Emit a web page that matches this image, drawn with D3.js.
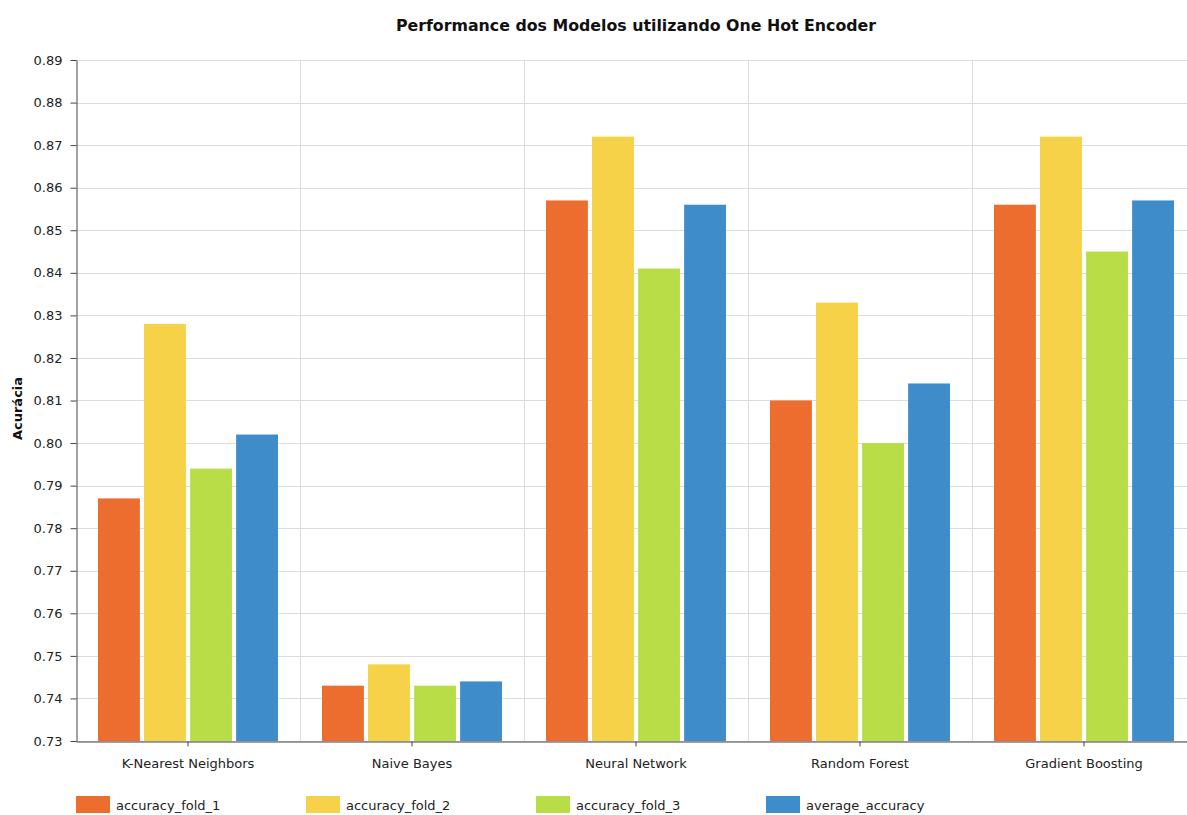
<!DOCTYPE html>
<html>
<head>
<meta charset="utf-8">
<script src="https://cdn.jsdelivr.net/npm/d3@7"></script>
<style>
  html, body { margin: 0; padding: 0; background: #fff; }
  svg { display: block; font-family: "DejaVu Sans", Verdana, sans-serif; }
</style>
</head>
<body>
<svg id="chart" width="1187" height="815"></svg>
<script>
// Models and per-fold accuracies
const models = ["K-Nearest Neighbors", "Naive Bayes", "Neural Network", "Random Forest", "Gradient Boosting"];
const seriesNames = ["accuracy_fold_1", "accuracy_fold_2", "accuracy_fold_3", "average_accuracy"];
const accuracyFold1 = [0.787, 0.743, 0.857, 0.810, 0.856];
const accuracyFold2 = [0.828, 0.748, 0.872, 0.833, 0.872];
const accuracyFold3 = [0.794, 0.743, 0.841, 0.800, 0.845];
const averageAccuracy = [0.802, 0.744, 0.856, 0.814, 0.857];
const yTicks = [0.73, 0.74, 0.75, 0.76, 0.77, 0.78, 0.79, 0.80, 0.81, 0.82, 0.83, 0.84, 0.85, 0.86, 0.87, 0.88, 0.89];
const colors = ["#EC6D2D", "#F5D247", "#B9DD46", "#3F8CCB"];

const seriesValues = [accuracyFold1, accuracyFold2, accuracyFold3, averageAccuracy];
const rows = models.map((m, i) => ({
  model: m,
  values: seriesNames.map((s, j) => ({ key: s, value: seriesValues[j][i] }))
}));

const svg = d3.select("#chart");
const margin = { top: 60, left: 76, right: 1196, bottom: 741 };

const x = d3.scaleBand().domain(models).range([margin.left, margin.right]).paddingInner(0).paddingOuter(0);
const xInner = d3.scaleBand().domain(seriesNames).range([22, x.bandwidth() - 22]).paddingInner(0.09);
const y = d3.scaleLinear().domain([0.73, 0.89]).range([margin.bottom, margin.top]);

// Horizontal gridlines
svg.append("g")
  .selectAll("line")
  .data(yTicks)
  .join("line")
  .attr("x1", margin.left).attr("x2", margin.right)
  .attr("y1", d => Math.round(y(d)) + 0.5).attr("y2", d => Math.round(y(d)) + 0.5)
  .attr("stroke", "#dcdcdc").attr("stroke-width", 1);

// Vertical separators between categories
svg.append("g")
  .selectAll("line")
  .data(models.slice(1))
  .join("line")
  .attr("x1", d => Math.round(x(d)) + 0.5).attr("x2", d => Math.round(x(d)) + 0.5)
  .attr("y1", margin.top).attr("y2", margin.bottom)
  .attr("stroke", "#dcdcdc").attr("stroke-width", 1);

// Bars
const groups = svg.append("g")
  .selectAll("g")
  .data(rows)
  .join("g")
  .attr("transform", d => `translate(${x(d.model)},0)`);

groups.selectAll("rect")
  .data(d => d.values)
  .join("rect")
  .attr("x", d => xInner(d.key))
  .attr("width", xInner.bandwidth())
  .attr("y", d => y(d.value))
  .attr("height", d => y(0.73) - y(d.value))
  .attr("fill", (d, i) => colors[i]);

// Y axis
const yAxis = svg.append("g")
  .attr("transform", `translate(${margin.left + 0.5},0)`)
  .call(d3.axisLeft(y).tickValues(yTicks).tickFormat(d3.format(".2f")).tickSize(6).tickSizeOuter(0));
yAxis.select(".domain").attr("stroke", "#444");
yAxis.selectAll(".tick line").attr("stroke", "#444");
yAxis.selectAll(".tick text").attr("font-size", 13).attr("fill", "#222").attr("x", -14)
  .attr("font-family", "DejaVu Sans, sans-serif");

// X axis
const xAxis = svg.append("g")
  .attr("transform", `translate(0,${margin.bottom + 0.5})`)
  .call(d3.axisBottom(x).tickSize(5).tickSizeOuter(0));
xAxis.select(".domain").attr("stroke", "#444");
xAxis.selectAll(".tick line").attr("stroke", "#444");
xAxis.selectAll(".tick text").attr("font-size", 13).attr("fill", "#222").attr("y", 17)
  .attr("font-family", "DejaVu Sans, sans-serif");

// Title
svg.append("text")
  .attr("x", 636).attr("y", 31)
  .attr("text-anchor", "middle")
  .attr("font-size", 15.8).attr("font-weight", "bold").attr("fill", "#111")
  .text("Performance dos Modelos utilizando One Hot Encoder");

// Y axis title
svg.append("text")
  .attr("transform", `translate(22,${(margin.top + margin.bottom) / 2 + 8}) rotate(-90)`)
  .attr("text-anchor", "middle")
  .attr("font-size", 13).attr("font-weight", "bold").attr("fill", "#111")
  .text("Acurácia");

// Legend
const legend = svg.append("g")
  .selectAll("g")
  .data(seriesNames)
  .join("g")
  .attr("transform", (d, i) => `translate(${76 + i * 230},796)`);
legend.append("rect").attr("width", 34).attr("height", 17).attr("fill", (d, i) => colors[i]);
legend.append("text").attr("x", 40).attr("y", 14)
  .attr("font-size", 13).attr("fill", "#222").text(d => d);
</script>
</body>
</html>
